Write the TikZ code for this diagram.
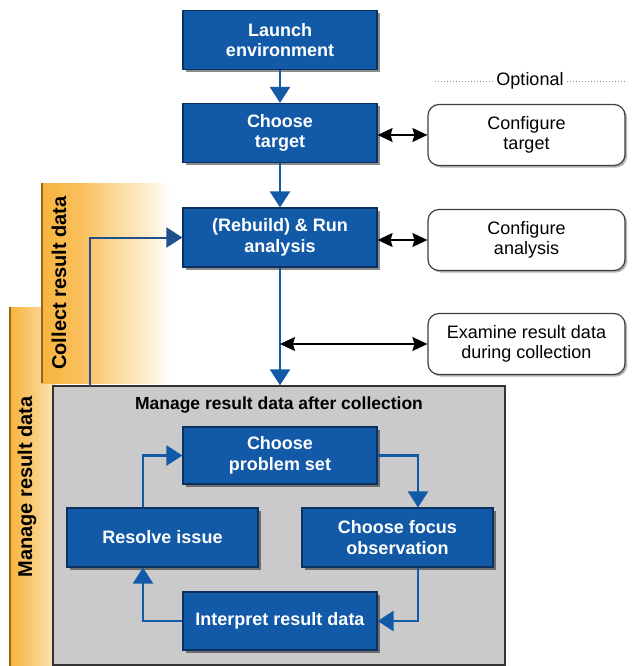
\documentclass[tikz,border=0pt]{standalone}
\usepackage{fontspec}
\setmainfont{Liberation Sans}
\usetikzlibrary{arrows.meta,shadows,calc}

\definecolor{stepblue}{RGB}{18,90,168}
\definecolor{stepedge}{RGB}{12,48,96}
\definecolor{loopline}{RGB}{30,80,140}
\definecolor{panelgray}{RGB}{202,202,202}
\definecolor{bandorange}{RGB}{248,180,62}
\definecolor{bandpale}{RGB}{253,230,186}
\definecolor{bandedge}{RGB}{150,100,30}

% orange side bands fading to white towards the right
\pgfdeclarehorizontalshading{bandfade}{100bp}{color(0bp)=(bandorange); color(25bp)=(bandorange); color(40bp)=(bandorange!85!white); color(52bp)=(bandorange!55!white); color(62bp)=(bandpale); color(75bp)=(white); color(100bp)=(white)}
\pgfdeclarehorizontalshading{sidefade}{100bp}{color(0bp)=(bandorange); color(25bp)=(bandorange); color(50bp)=(bandorange!70!white); color(75bp)=(bandpale); color(100bp)=(bandpale)}

\begin{document}
\begin{tikzpicture}[x=1pt,y=-1pt,
  stepbox/.style={draw=stepedge, line width=1.2pt, fill=stepblue, text=white,
    font=\fontsize{18}{20.5}\selectfont\bfseries, align=center,
    minimum width=194pt, minimum height=59pt, inner sep=0pt,
    drop shadow={shadow xshift=2.5pt, shadow yshift=-2.5pt, opacity=0.45, fill=black}},
  optbox/.style={draw=black!75, line width=1.2pt, fill=white, rounded corners=11pt,
    font=\fontsize{18}{20.5}\selectfont, align=center,
    minimum width=197pt, minimum height=61pt, inner sep=0pt,
    drop shadow={shadow xshift=2pt, shadow yshift=-2pt, opacity=0.3, fill=black}},
  flow/.style={draw=stepblue, line width=2.4pt, -{Triangle[width=20pt,length=16pt]}},
  link/.style={draw=black, line width=1.5pt,
    {Stealth[width=14pt,length=15pt,inset=2pt]}-{Stealth[width=14pt,length=15pt,inset=2pt]}},
  bandlabel/.style={rotate=90, font=\fontsize{20}{22}\selectfont\bfseries, text=black},
]
\useasboundingbox (0,0) rectangle (636,666);
\fill[white] (0,0) rectangle (636,666);

% side bands
\shade[shading=sidefade] (10,307) rectangle (56,666);
\draw[bandedge, line width=1.2pt] (10,307) -- (10,666);
\shade[shading=bandfade] (42,183) rectangle (170,383);
\draw[bandedge, line width=1.2pt] (42,183) -- (42,383);
\node[bandlabel] (collectlbl) at (59,283) {Collect result data};
\node[bandlabel] (managelbl) at (27,487) {Manage result data};

% panel for the post-collection loop
\node[draw=black!80, line width=1.5pt, fill=panelgray, minimum width=452pt,
  minimum height=279pt, inner sep=0pt] (frame) at (279,525.5) {};
\node[font=\fontsize{17.5}{20}\selectfont\bfseries] (ttl) at (279,405)
  {Manage result data after collection};

% main steps
\node[stepbox] (launch) at (280,40) {Launch\\environment};
\node[stepbox] (target) at (280,133) {Choose\\target};
\node[stepbox] (run) at (280,237.5) {(Rebuild) \& Run\\analysis};

% optional steps
\node[font=\fontsize{18}{20}\selectfont] (opt) at (530,81) {Optional};
\coordinate (optL) at (435,82);
\coordinate (optR) at (626,82);
\draw[black!45, line width=1pt, dotted] (optL) -- (optL -| opt.west);
\draw[black!45, line width=1pt, dotted] (opt.east |- optR) -- (optR);
\node[optbox] (cfgT) at (526.5,135) {Configure\\target};
\node[optbox] (cfgA) at (526.5,240) {Configure\\analysis};
\node[optbox] (exam) at (526.5,344) {Examine result data\\during collection};

% loop steps
\node[stepbox, minimum height=57pt] (prob) at (280,455.5) {Choose\\problem set};
\node[stepbox, minimum width=191pt] (resolve) at (162.5,537.5) {Resolve issue};
\node[stepbox, minimum width=191pt] (focus) at (397.5,537.5) {Choose focus\\observation};
\node[stepbox, minimum height=58pt] (interp) at (280,621) {Interpret result data};

% main flow
\draw[flow] (launch) -- (target);
\draw[flow] (target) -- (run);
\draw[flow] (run.south) -- (run.south |- frame.north);
\coordinate (fbfoot) at (90,386);
\draw[flow, draw=loopline, line width=2pt] (fbfoot) |- (run.west);

% optional links
\draw[link] (target.east |- cfgT.west) -- (cfgT.west);
\draw[link] (run.east |- cfgA.west) -- (cfgA.west);
\coordinate (tap) at (run.south |- exam.west);
\draw[link, line width=1.2pt] (tap) -- (exam.west);

% loop
\coordinate (colR) at (418,0);
\coordinate (colL) at (143,0);
\draw[flow] (prob.east) -| (colR |- focus.north);
\draw[flow] (colR |- focus.south) |- (interp.east);
\draw[flow] (interp.west) -| (colL |- resolve.south);
\draw[flow] (colL |- resolve.north) |- (prob.west);
\end{tikzpicture}
\end{document}
